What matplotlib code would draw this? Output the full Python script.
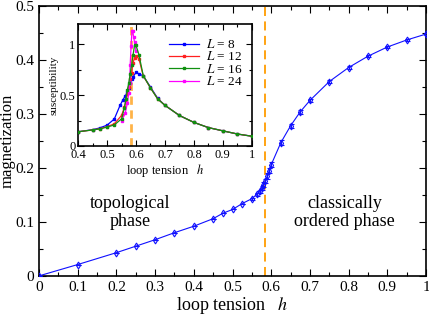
import numpy as np
import matplotlib.pyplot as plt
from matplotlib.ticker import MultipleLocator, FuncFormatter

plt.rcParams['font.family'] = ['Liberation Serif', 'DejaVu Serif']
plt.rcParams['mathtext.fontset'] = 'stix'

# main curve: magnetization vs loop tension
h = [0, 0.1, 0.2, 0.25, 0.3, 0.35, 0.4, 0.45, 0.475, 0.5, 0.525, 0.55,
     0.5625, 0.57, 0.575, 0.58, 0.585, 0.59, 0.595, 0.6, 0.625, 0.65,
     0.675, 0.7, 0.75, 0.8, 0.85, 0.9, 0.95, 1.0]
mag = [0, 0.021, 0.043, 0.055, 0.067, 0.080, 0.092, 0.106, 0.116, 0.123,
       0.134, 0.143, 0.151, 0.157, 0.163, 0.169, 0.176, 0.185, 0.195, 0.206,
       0.247, 0.278, 0.304, 0.325, 0.360, 0.386, 0.407, 0.424, 0.437, 0.448]
mag_err = [0, 0, 0, 0, 0, 0, 0, 0, 0, 0, 0, 0.002,
           0.003, 0.003, 0.004, 0.004, 0.004, 0.005, 0.005, 0.005, 0.005, 0.004,
           0.004, 0.003, 0.002, 0.002, 0.002, 0.002, 0.002, 0.002]
h_c = 0.583

# inset: susceptibility
h8 = [0.4, 0.45, 0.475, 0.5, 0.525, 0.545, 0.555, 0.5625, 0.57, 0.575, 0.58,
      0.585, 0.59, 0.6, 0.61, 0.625, 0.65, 0.675, 0.7, 0.75, 0.8, 0.85, 0.9,
      0.95, 1.0]
chi8 = [0.14, 0.16, 0.178, 0.205, 0.265, 0.40, 0.455, 0.49, 0.53, 0.57, 0.62,
        0.655, 0.68, 0.725, 0.71, 0.69, 0.58, 0.468, 0.40, 0.30, 0.232, 0.181,
        0.149, 0.118, 0.096]
h12 = [0.4, 0.45, 0.475, 0.5, 0.525, 0.55, 0.56, 0.565, 0.57, 0.575, 0.58,
       0.585, 0.59, 0.595, 0.6, 0.61, 0.625, 0.65, 0.675, 0.7, 0.75, 0.8,
       0.85, 0.9, 0.95, 1.0]
chi12 = [0.14, 0.158, 0.17, 0.19, 0.218, 0.30, 0.38, 0.44, 0.51, 0.58, 0.66,
         0.72, 0.82, 0.87, 0.885, 0.86, 0.69, 0.572, 0.464, 0.40, 0.30, 0.232,
         0.181, 0.149, 0.118, 0.096]
h16 = [0.4, 0.45, 0.475, 0.5, 0.525, 0.55, 0.56, 0.565, 0.57, 0.575, 0.58,
       0.585, 0.59, 0.595, 0.6, 0.61, 0.625, 0.65, 0.675, 0.7, 0.75, 0.8,
       0.85, 0.9, 0.95, 1.0]
chi16 = [0.14, 0.158, 0.168, 0.186, 0.207, 0.267, 0.376, 0.46, 0.55, 0.62, 0.71,
         0.80, 0.90, 0.99, 0.99, 0.90, 0.693, 0.571, 0.462, 0.40, 0.30, 0.232,
         0.181, 0.149, 0.118, 0.096]
h24 = [0.55, 0.5625, 0.57, 0.575, 0.578, 0.58, 0.583, 0.586, 0.589, 0.592,
       0.595, 0.6]
chi24 = [0.25, 0.32, 0.42, 0.52, 0.62, 0.80, 0.98, 1.13, 1.13, 1.07, 1.02, 0.93]

fmt = FuncFormatter(lambda v, p: '%g' % round(v, 3))

fig = plt.figure(figsize=(4.29, 3.16), dpi=100)
ax = fig.add_axes([0.091, 0.127, 0.902, 0.854])
ax.axvline(h_c, color='#ff9c00', ls=(0, (5, 3)), lw=1.3, zorder=1)
ax.errorbar(h, mag, yerr=mag_err, color='#1010ff', lw=0.8, marker='d', ms=3.5,
            mfc='none', mew=0.8, capsize=1.8, elinewidth=0.8, zorder=3)
ax.set_xlim(0, 1)
ax.set_ylim(0, 0.5)
ax.xaxis.set_major_locator(MultipleLocator(0.1))
ax.xaxis.set_minor_locator(MultipleLocator(0.05))
ax.yaxis.set_major_locator(MultipleLocator(0.1))
ax.yaxis.set_minor_locator(MultipleLocator(0.05))
ax.xaxis.set_major_formatter(fmt)
ax.yaxis.set_major_formatter(fmt)
ax.tick_params(which='both', direction='in', top=True, right=True, labelsize=11, width=0.8)
ax.tick_params(which='major', length=5)
ax.tick_params(which='minor', length=3)
for s in ax.spines.values():
    s.set_linewidth(1.2)
ax.set_xlabel('loop tension   $h$', fontsize=13, labelpad=1)
ax.set_ylabel('magnetization', fontsize=12, labelpad=0)
ax.text(0.235, 0.118, 'topological\nphase', ha='center', va='center', fontsize=13, linespacing=1.1)
ax.text(0.79, 0.118, 'classically\nordered phase', ha='center', va='center', fontsize=13, linespacing=1.1)

ins = fig.add_axes([0.182, 0.538, 0.405, 0.386])
ins.axvline(h_c, color='#ffb347', ls=(0, (3, 2)), lw=2, zorder=1)
mk = dict(lw=0.9, marker='s', ms=1.7)
ins.plot(h8, chi8, color='#0000ff', label='$L$ = 8', **mk)
ins.plot(h12, chi12, color='#ff2020', label='$L$ = 12', **mk)
ins.plot(h24, chi24, color='#ff00ff', label='$L$ = 24', zorder=2.5, **mk)
ins.plot(h16, chi16, color='#109010', label='$L$ = 16', zorder=2.6, **mk)
handles, labels = ins.get_legend_handles_labels()
order = [0, 1, 3, 2]
ins.legend([handles[i] for i in order], [labels[i] for i in order], loc='upper right',
           frameon=False, fontsize=9.5, handlelength=2.3, handletextpad=0.5,
           labelspacing=-0.05, borderaxespad=0.3, bbox_to_anchor=(1.0, 0.96))
ins.set_xlim(0.4, 1)
ins.set_ylim(0, 1.2)
ins.xaxis.set_major_locator(MultipleLocator(0.1))
ins.xaxis.set_minor_locator(MultipleLocator(0.05))
ins.yaxis.set_major_locator(MultipleLocator(0.5))
ins.yaxis.set_minor_locator(MultipleLocator(0.25))
ins.xaxis.set_major_formatter(fmt)
ins.yaxis.set_major_formatter(fmt)
ins.tick_params(which='both', direction='in', top=True, right=True, labelsize=9, width=0.8, pad=2)
ins.tick_params(which='major', length=4)
ins.tick_params(which='minor', length=2)
for s in ins.spines.values():
    s.set_linewidth(1.2)
ins.set_xlabel('loop tension   $h$', fontsize=9, labelpad=1)
ins.set_ylabel('susceptibility', fontsize=8, labelpad=1)

fig.savefig('out.png', dpi=100)
